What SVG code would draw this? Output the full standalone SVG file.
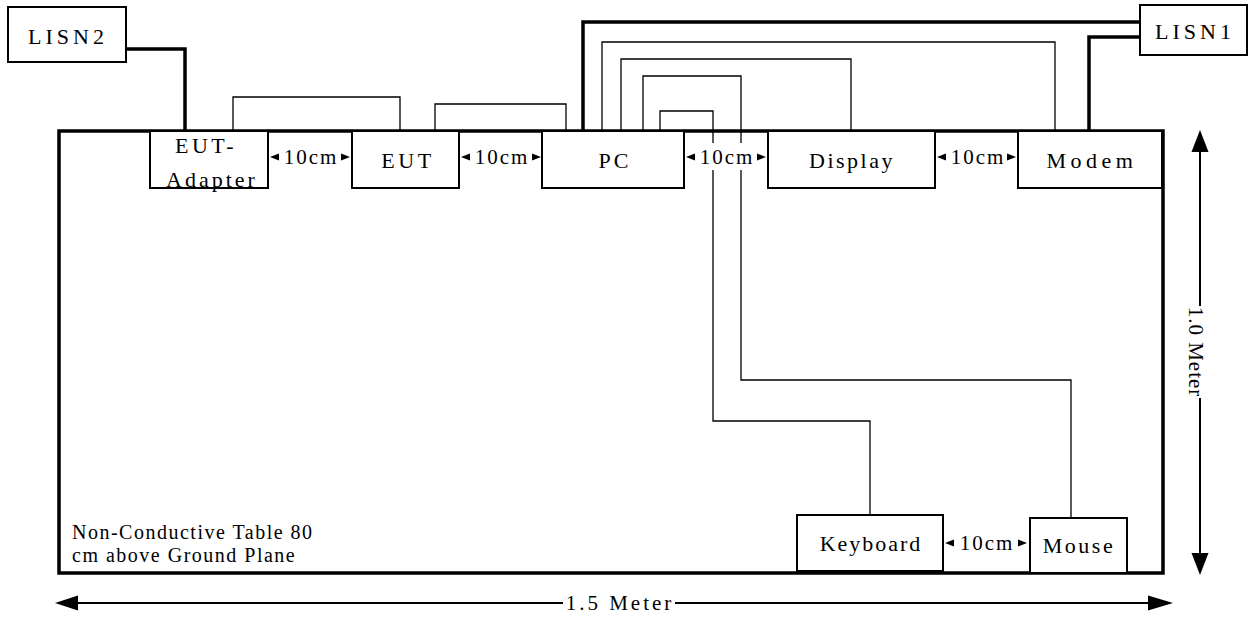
<svg xmlns="http://www.w3.org/2000/svg" width="1250" height="618" viewBox="0 0 1250 618">
<style>
text{font-family:'Liberation Serif','DejaVu Serif',serif;fill:#000}
.box{fill:#fff;stroke:#000;stroke-width:2}
.lbl{font-size:22px;text-anchor:middle}
.cm{font-size:21px;text-anchor:middle;letter-spacing:2px}
.note{font-size:20px;letter-spacing:1.5px}
.thin{fill:none;stroke:#000;stroke-width:1.3}
.thick{fill:none;stroke:#000;stroke-width:3.5}
.dim{fill:none;stroke:#000;stroke-width:2}
</style>
<rect width="1250" height="618" fill="#fff"/>
<g id="table">
<rect x="59" y="131" width="1104" height="442" fill="none" stroke="#000" stroke-width="3.5"/>
<text class="note" x="72" y="539">Non-Conductive Table 80</text>
<text class="note" x="72" y="562">cm above Ground Plane</text>
</g>
<g id="connectors">
<polyline class="thick" points="126,49 185,49 185,131"/>
<polyline class="thin" points="233,131 233,97 400,97 400,131"/>
<polyline class="thin" points="435,131 435,104 566,104 566,131"/>
<polyline class="thick" points="583,131 583,22 1140,22"/>
<polyline class="thick" points="1140,37 1089,37 1089,131"/>
<polyline class="thin" points="602,131 602,42 1055,42 1055,131"/>
<polyline class="thin" points="621,131 621,59 851,59 851,131"/>
<polyline class="thin" points="643,131 643,76 741,76 741,380 1071,380 1071,518"/>
<polyline class="thin" points="660,131 660,111 713,111 713,421 870,421 870,515"/>
</g>
<g id="lisn2"><rect class="box" x="8" y="7" width="118" height="55"/><text class="lbl" x="68" y="44" letter-spacing="4">LISN2</text></g>
<g id="lisn1"><rect class="box" x="1140" y="5" width="107" height="50"/><text class="lbl" x="1195" y="39" letter-spacing="4">LISN1</text></g>
<g id="eut-adapter"><rect class="box" x="150" y="131" width="118" height="57"/><text class="lbl" x="206" y="153" letter-spacing="3.5">EUT-</text><text class="lbl" x="212" y="187" letter-spacing="3">Adapter</text></g>
<g id="eut"><rect class="box" x="352" y="131" width="107" height="57"/><text class="lbl" x="408" y="168" letter-spacing="3.5">EUT</text></g>
<g id="pc"><rect class="box" x="542" y="131" width="142" height="57"/><text class="lbl" x="615" y="168" letter-spacing="3">PC</text></g>
<g id="display"><rect class="box" x="768" y="131" width="167" height="57"/><text class="lbl" x="852" y="168" letter-spacing="2.5">Display</text></g>
<g id="modem"><rect class="box" x="1018" y="131" width="144" height="57"/><text class="lbl" x="1092" y="168" letter-spacing="4.5">Modem</text></g>
<g id="keyboard"><rect class="box" x="797" y="515" width="146" height="56"/><text class="lbl" x="871" y="551" letter-spacing="2">Keyboard</text></g>
<g id="mouse"><rect class="box" x="1030" y="518" width="97" height="55"/><text class="lbl" x="1079" y="553" letter-spacing="2.5">Mouse</text></g>
<g id="spacings">
<g><polygon points="270,157 279,153.5 279,160.5"/><polygon points="350,157 341,153.5 341,160.5"/><text class="cm" x="311" y="164">10cm</text></g>
<g><polygon points="461,157 470,153.5 470,160.5"/><polygon points="541,157 532,153.5 532,160.5"/><text class="cm" x="502" y="164">10cm</text></g>
<g><rect x="695" y="143" width="64" height="27" fill="#fff"/><polygon points="686,157 695,153.5 695,160.5"/><polygon points="766,157 757,153.5 757,160.5"/><text class="cm" x="727" y="164">10cm</text></g>
<g><polygon points="937,157 946,153.5 946,160.5"/><polygon points="1016,157 1007,153.5 1007,160.5"/><text class="cm" x="978" y="164">10cm</text></g>
<g><polygon points="945,543 954,539.5 954,546.5"/><polygon points="1027,543 1018,539.5 1018,546.5"/><text class="cm" x="987" y="550">10cm</text></g>
</g>
<g id="dimensions">
<line class="dim" x1="75" y1="603" x2="563" y2="603"/>
<line class="dim" x1="675" y1="603" x2="1150" y2="603"/>
<polygon points="55,603 78,595.5 78,610.5"/>
<polygon points="1173,603 1148,595.5 1148,610.5"/>
<text x="620" y="610" font-size="21" text-anchor="middle" letter-spacing="3">1.5 Meter</text>
<line class="dim" x1="1200" y1="150" x2="1200" y2="306"/>
<line class="dim" x1="1200" y1="398" x2="1200" y2="555"/>
<polygon points="1200,130 1191.5,152 1208.5,152"/>
<polygon points="1200,575 1191.5,553 1208.5,553"/>
<text transform="translate(1189,352) rotate(90)" font-size="21" text-anchor="middle" letter-spacing="1">1.0 Meter</text>
</g>
</svg>
